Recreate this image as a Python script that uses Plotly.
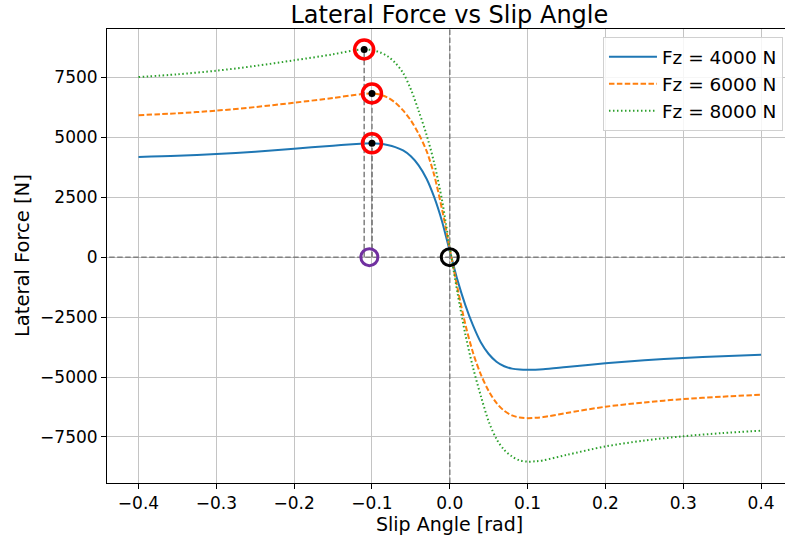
import numpy as np
import plotly.graph_objects as go

# ---------------- DATA ----------------
slip_angle = [-0.40, -0.35, -0.30, -0.25, -0.20, -0.15, -0.12, -0.11, -0.10, -0.09,
              -0.08, -0.07, -0.06, -0.05, -0.04, -0.03, -0.02, -0.01, -0.005, 0.0,
              0.005, 0.01, 0.02, 0.03, 0.04, 0.05, 0.06, 0.07, 0.08, 0.09,
              0.10, 0.11, 0.12, 0.15, 0.20, 0.25, 0.30, 0.35, 0.40]

fy_fz4000 = [4180, 4225, 4300, 4400, 4520, 4650, 4722, 4740, 4750, 4725,
             4675, 4590, 4450, 4210, 3830, 3280, 2500, 1500, 880, 250,
             -360, -970, -2000, -2860, -3560, -4040, -4360, -4550, -4650, -4690,
             -4700, -4692, -4675, -4585, -4430, -4305, -4205, -4130, -4070]

fy_fz6000 = [5920, 6000, 6110, 6260, 6440, 6640, 6775, 6810, 6830, 6780,
             6660, 6440, 6120, 5700, 5140, 4440, 3420, 2000, 1190, 350,
             -480, -1300, -2800, -4000, -4900, -5580, -6080, -6410, -6600, -6690,
             -6715, -6700, -6670, -6500, -6240, -6060, -5920, -5820, -5740]

fy_fz8000 = [7510, 7625, 7775, 7975, 8210, 8460, 8640, 8665, 8635, 8545,
             8380, 8100, 7680, 7000, 6100, 5120, 3920, 2380, 1400, 400,
             -560, -1500, -3220, -4620, -5800, -6850, -7580, -8040, -8310, -8480,
             -8530, -8515, -8475, -8250, -7895, -7650, -7470, -7340, -7240]

series_names = ["Fz = 4000 N", "Fz = 6000 N", "Fz = 8000 N"]
origin_point = (0.0, 0.0)

x_tick_values = [-0.4, -0.3, -0.2, -0.1, 0.0, 0.1, 0.2, 0.3, 0.4]
x_tick_labels = ["\u22120.4", "\u22120.3", "\u22120.2", "\u22120.1", "0.0", "0.1", "0.2", "0.3", "0.4"]
y_tick_values = [-7500, -5000, -2500, 0, 2500, 5000, 7500]
y_tick_labels = ["\u22127500", "\u22125000", "\u22122500", "0", "2500", "5000", "7500"]

# ---------------- STYLE ----------------
X_RANGE = [-0.4405, 0.4308]
Y_RANGE = [-9420, 9515]
colors = ["#1f77b4", "#ff7f0e", "#2ca02c"]
dashes = ["solid", "5.5px,2.4px", "1.5px,2.5px"]
GUIDE = "#808080"
FONT = "DejaVu Sans"

series = [fy_fz4000, fy_fz6000, fy_fz8000]

fig = go.Figure()

for i, (vals, name) in enumerate(zip(series, series_names)):
    fig.add_trace(go.Scatter(
        x=slip_angle, y=vals, mode="lines", name=name,
        legendgroup=f"g{i}",
        line=dict(color=colors[i], width=2, dash=dashes[i], shape="spline", smoothing=0.9),
    ))

# guide lines through zero
fig.add_trace(go.Scatter(x=[X_RANGE[0] - 0.1, X_RANGE[1] + 0.1], y=[0, 0], mode="lines",
                         line=dict(color=GUIDE, width=1.5, dash="5.5px,2.5px"),
                         showlegend=False, hoverinfo="skip"))
fig.add_trace(go.Scatter(x=[0, 0], y=[Y_RANGE[0] - 1000, Y_RANGE[1] + 1000], mode="lines",
                         line=dict(color=GUIDE, width=1.5, dash="5.5px,2.5px"),
                         showlegend=False, hoverinfo="skip"))

# peaks
peak_x, peak_y = [], []
for vals in series:
    idx = int(np.argmax(vals))
    peak_x.append(slip_angle[idx])
    peak_y.append(vals[idx])

for px, py in zip(peak_x, peak_y):
    fig.add_trace(go.Scatter(x=[px, px], y=[0, py], mode="lines",
                             line=dict(color=GUIDE, width=1.5, dash="5.5px,2.5px"),
                             showlegend=False, hoverinfo="skip"))

fig.add_trace(go.Scatter(x=peak_x, y=peak_y, mode="markers",
                         marker=dict(symbol="circle-open", size=19, color="#ff0000",
                                     line=dict(width=3.5, color="#ff0000")),
                         showlegend=False))
fig.add_trace(go.Scatter(x=peak_x, y=peak_y, mode="markers",
                         marker=dict(symbol="circle", size=7, color="#000000"),
                         showlegend=False))

mean_peak = float(np.mean(peak_x))
fig.add_trace(go.Scatter(x=[mean_peak], y=[0], mode="markers",
                         marker=dict(symbol="circle-open", size=17, color="#7030a0",
                                     line=dict(width=3, color="#7030a0")),
                         showlegend=False))
fig.add_trace(go.Scatter(x=[origin_point[0]], y=[origin_point[1]], mode="markers",
                         marker=dict(symbol="circle-open", size=17, color="#000000",
                                     line=dict(width=3, color="#000000")),
                         showlegend=False))

axis_common = dict(
    showgrid=True, gridcolor="#c4c4c4", gridwidth=1,
    zeroline=False, showline=True, linecolor="#000000", linewidth=1,
    ticks="outside", ticklen=5, tickwidth=1, tickcolor="#000000",
    tickfont=dict(family=FONT, size=17, color="#000000"),
)

fig.update_layout(
    width=785, height=538,
    margin=dict(l=107, r=0, t=29, b=55),
    paper_bgcolor="white", plot_bgcolor="white",
    font=dict(family=FONT, color="#000000"),
    title=dict(text="Lateral Force vs Slip Angle", x=0.505, xref="paper", xanchor="center",
               y=1 - 15 / 538, yref="container", yanchor="middle",
               font=dict(family=FONT, size=24, color="#000000")),
    xaxis=dict(range=X_RANGE, tickvals=x_tick_values, ticktext=x_tick_labels,
               mirror=True, **axis_common),
    yaxis=dict(range=Y_RANGE, tickvals=y_tick_values, ticktext=y_tick_labels,
               mirror=False, **axis_common),
    legend=dict(x=0.997, y=0.982, xanchor="right", yanchor="top",
                bgcolor="rgba(255,255,255,0.85)", bordercolor="#d0d0d0", borderwidth=1,
                font=dict(family=FONT, size=18.5, color="#000000"),
                itemwidth=48, tracegroupgap=0, traceorder="normal"),
    annotations=[
        dict(text="Slip Angle [rad]", xref="paper", yref="paper", x=0.505, y=(483 - 524) / 454,
             xanchor="center", yanchor="middle", showarrow=False,
             font=dict(family=FONT, size=19, color="#000000")),
        dict(text="Lateral Force [N]", xref="paper", yref="paper", x=(22 - 107) / 678, y=0.5,
             xanchor="center", yanchor="middle", textangle=-90, showarrow=False,
             font=dict(family=FONT, size=19.5, color="#000000")),
    ],
)

fig.write_html("out.html")
